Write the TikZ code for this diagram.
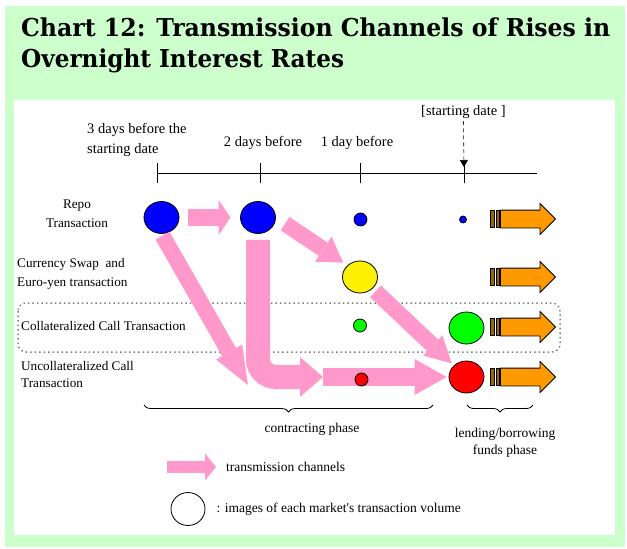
\documentclass[tikz,border=0pt]{standalone}
\usepackage{fontspec}
\setmainfont{Liberation Serif}
\newfontfamily\titlefont{DejaVu Serif}
\usetikzlibrary{positioning}
\usetikzlibrary{arrows.meta}
\usetikzlibrary{shapes.geometric,shapes.arrows}
\usetikzlibrary{decorations.pathreplacing}
\definecolor{panelgreen}{RGB}{204,255,204}
\definecolor{chanpink}{RGB}{255,153,204}
\definecolor{fundorange}{RGB}{255,153,0}
\definecolor{stripebrown}{RGB}{153,102,0}
\def\ticklen{10pt}
\tikzset{
vol/.style={draw,ellipse,inner sep=0pt,line width=0.8pt},
big vol/.style={vol,minimum width=35pt,minimum height=32pt},
small vol/.style={vol,minimum size=13pt},
tiny vol/.style={vol,minimum size=7pt},
channel/.style n args={3}{draw=chanpink,line width=#1,
  -{Triangle[width=#2,length=#3,line width=0pt]}},
funds arrow/.style={single arrow,draw,fill=fundorange,line width=0.8pt,
  inner xsep=0pt,inner ysep=8.5pt,minimum height=55pt,
  single arrow head extend=6.5pt},
stripe/.style={draw,fill=stripebrown,line width=0.6pt,inner sep=0pt,
  minimum width=3.8pt,minimum height=17pt},
call box/.style={draw=gray,line width=1.5pt,dash pattern=on 1.5pt off 3pt,
  rounded corners=8pt},
start mark/.style={semithick,dash pattern=on 4pt off 3pt,
  -{Triangle[width=8pt,length=7pt]}},
phase brace/.style={decorate,decoration={brace,amplitude=7pt,mirror},
  line width=0.8pt},
day lbl/.style={font=\fontsize{14.5}{20}\selectfont,inner sep=0pt},
row lbl/.style={font=\fontsize{13.2}{18.5}\selectfont,align=left,inner sep=0pt},
note lbl/.style={font=\fontsize{13.5}{17}\selectfont,inner sep=0pt},
}

\begin{document}
\begin{tikzpicture}[x=1pt,y=-1pt]
\useasboundingbox (0,0) rectangle (627,549);
\fill[panelgreen] (5,6) rectangle (625,547);
\fill[white] (14,100) rectangle (615,535);

% title
\node[anchor=base west,inner sep=0pt] (title1) at (21,36)
  {\resizebox{589pt}{18.7pt}{\titlefont\bfseries Chart 12: Transmission Channels of Rises in}};
\node[anchor=base west,inner sep=0pt] (title2) at (21,67)
  {\resizebox{323pt}{18.7pt}{\titlefont\bfseries Overnight Interest Rates}};

% time axis
\coordinate (d3) at (157,173);
\coordinate (d2) at (260,173);
\coordinate (d1) at (360,173);
\coordinate (d0) at (464,173);
\coordinate (dend) at (537,173);
\draw[semithick] (d3) -- (dend);
\foreach \d in {d3,d2,d1,d0}
  \draw[semithick] (\d) ++(0,-\ticklen) -- ++(0,2*\ticklen);
\node[day lbl,anchor=base west,align=left] (lbl3) at (87,153)
  {3 days before the\\starting date};
\node[day lbl,anchor=base] (lbl2) at (263,146) {2 days before};
\node[day lbl,anchor=base] (lbl1) at (357,146) {1 day before};
\node[day lbl,anchor=base] (startlbl) at (463.5,115) {[starting date ]};
\draw[start mark,shorten <=3pt,shorten >=6pt] (startlbl.south) -- (d0);

% markets
\node[row lbl,anchor=base,align=center] (repolbl) at (77,227) {Repo\\Transaction};
\node[row lbl,anchor=base west] (swaplbl) at (17,286)
  {Currency Swap~ and\\[0.5pt]Euro-yen transaction};
\node[row lbl,anchor=base west] (colllbl) at (21,330) {Collateralized Call Transaction};
\node[row lbl,anchor=base west,font=\fontsize{13.2}{16.5}\selectfont] (uncolllbl) at (21,387)
  {Uncollateralized Call\\Transaction};
\draw[call box] (18,303) rectangle (560,352);

% volumes
\node[big vol,fill=blue] (repo3) at (161.5,217.5) {};
\node[big vol,fill=blue] (repo2) at (258,217.5) {};
\node[small vol,fill=blue] (repo1) at (360.5,219.5) {};
\node[tiny vol,fill=blue] (repo0) at (463,219.5) {};
\node[big vol,fill=yellow] (swap1) at (360,277) {};
\node[small vol,fill=green] (coll1) at (360,325.5) {};
\node[big vol,fill=green] (coll0) at (466.5,328) {};
\node[big vol,fill=red] (uncoll0) at (466.5,377) {};
\coordinate (tipA) at (248,385);
\coordinate (lmid) at (323,377);

% transmission channels
\draw[channel={17pt}{35pt}{12pt},shorten <=9pt,shorten >=9.5pt] (repo3.east) -- (repo2.west);
\draw[channel={16pt}{30pt}{38pt},shorten <=2pt] (repo3.south) -- (tipA);
\draw[channel={24pt}{40pt}{23pt},rounded corners=18pt,shorten <=6pt] (repo2.south) |- (lmid);
\draw[channel={18pt}{36pt}{32pt},shorten >=2pt] (lmid) -- (uncoll0.west);
\draw[channel={16pt}{30pt}{24pt},shorten <=11pt,shorten >=5pt] (repo2.east) -- (swap1.north west);
\draw[channel={16pt}{28pt}{26pt},shorten <=4pt,shorten >=3pt] (swap1.south east) -- (uncoll0.north west);
\node[small vol,fill=red] (uncoll1) at (361.5,379.5) {};

% lending/borrowing
\foreach \n/\y in {1/219,2/277,3/327,4/377} {
  \node[funds arrow] (out\n) at (523.5,\y) {};
  \node[stripe,left=0pt of out\n.tail] (sa\n) {};
  \node[stripe,left=1pt of sa\n] (sb\n) {};
}

% phases
\draw[phase brace] (144,405) -- (433,405);
\draw[phase brace] (467,405) -- (533,405);
\node[note lbl,anchor=base] (contract) at (312,432) {contracting phase};
\node[note lbl,anchor=base,align=center] (lending) at (505,454)
  {lending/borrowing\\funds phase};

% legend
\coordinate (legA) at (167,467);
\coordinate (legB) at (216,467);
\draw[channel={12pt}{27pt}{11pt}] (legA) -- (legB);
\node[note lbl,right=10pt of legB] (legchan) {transmission channels};
\node[vol,minimum width=34pt,minimum height=33pt] (legvol) at (188,509) {};
\node[note lbl,right=11pt of legvol] (legvoltxt) {: images of each market\textquotesingle s transaction volume};
\end{tikzpicture}
\end{document}
